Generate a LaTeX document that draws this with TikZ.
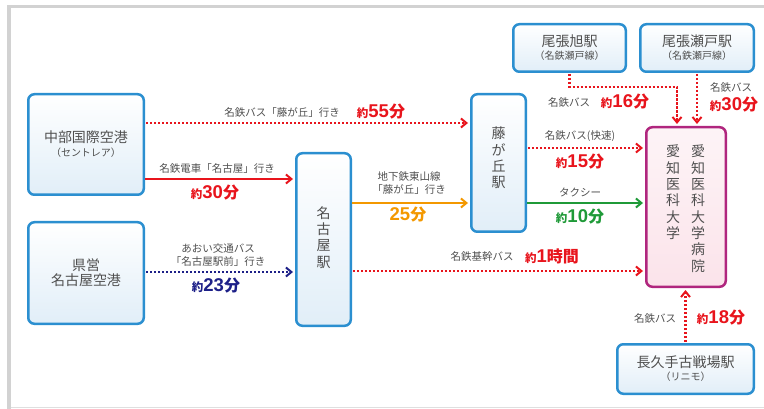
\documentclass[tikz,border=0pt]{standalone}
\usepackage{fontspec}
\setmainfont{Noto Sans CJK JP}
\newfontfamily\numf{Liberation Sans}
\usetikzlibrary{arrows.meta}
\definecolor{txt}{HTML}{4F4F4F}
\definecolor{rd}{HTML}{E8141C}
\definecolor{bl}{HTML}{1D2088}
\definecolor{org}{HTML}{F39800}
\definecolor{grn}{HTML}{1F9A38}
\definecolor{bbord}{HTML}{2B8FD0}
\definecolor{bfill}{HTML}{E1EEF8}
\definecolor{mbord}{HTML}{B0267E}
\definecolor{mfill}{HTML}{FBE3EA}
\definecolor{framec}{HTML}{D2D2D2}
\newcommand\yk[2]{{\bfseries\fontsize{11.5}{11.5}\selectfont 約}{\numf\bfseries\fontsize{18.5}{18.5}\selectfont #1}{\bfseries\fontsize{16}{16}\selectfont #2}}
\newcommand\bigt[1]{{\fontsize{14}{16.3}\selectfont #1}}
\newcommand\subt[1]{{\fontsize{10}{12}\selectfont #1}}
\tikzset{
  box/.style={draw=bbord, line width=2.5pt, rounded corners=6pt, top color=white, bottom color=bfill, text=txt, inner sep=0pt, align=center},
  mbox/.style={draw=mbord, line width=2.5pt, rounded corners=6pt, top color=white!60!mfill, bottom color=mfill, inner sep=0pt},
  vtext/.style={text=txt, align=center, inner sep=0pt, font=\fontsize{14}{16.3}\selectfont},
  lbl/.style={text=txt, inner sep=0pt, font=\fontsize{10.5}{13}\selectfont, align=center},
  tm/.style={inner sep=0pt},
  dotline/.style={line width=2.8pt, dash pattern=on 2.2pt off 1.8pt, -{Straight Barb[length=5.5pt,width=9pt,line width=2pt]}, shorten >=2pt, shorten <=1pt},
  solline/.style={line width=2pt, -{Straight Barb[length=5.5pt,width=9pt,line width=2pt]}, shorten >=2pt}
}
\begin{document}
\begin{tikzpicture}[x=1pt,y=-1pt]
\useasboundingbox (0,0) rectangle (764,409);
% frame
\fill[framec] (7,5) rectangle (764,8);
\fill[framec] (7,5) rectangle (11,409);
\draw[framec!70, line width=1pt] (11,407.5) -- (764,407.5);
% boxes
\node[box, minimum width=115.5pt, minimum height=100.5pt] (chubu) at (86,144.5) {\bigt{中部国際空港}\\[2pt]\subt{（セントレア）}};
\node[box, minimum width=115.5pt, minimum height=101.5pt] (kenei) at (86,273) {\bigt{県営}\\[1pt]\bigt{名古屋空港}};
\node[box, minimum width=54.5pt, minimum height=172.5pt] (nagoya) at (323.5,239.5) {};
\node[vtext] (nagoyat) at (323.5,237.5) {名\\古\\屋\\駅};
\node[box, minimum width=54.5pt, minimum height=137.5pt] (fuji) at (498.5,163) {};
\node[vtext] (fujit) at (498.5,158) {藤\\が\\丘\\駅};
\node[mbox, minimum width=79.5pt, minimum height=159.5pt] (aichi) at (686,207) {};
\node[vtext, anchor=north] (aichit1) at (673,145) {愛\\知\\医\\科\\大\\学};
\node[vtext, anchor=north] (aichit2) at (698,145) {愛\\知\\医\\科\\大\\学\\病\\院};
\node[box, minimum width=112.5pt, minimum height=47.5pt] (owari) at (569.5,48) {\bigt{尾張旭駅}\\[1pt]\subt{（名鉄瀬戸線）}};
\node[box, minimum width=113.5pt, minimum height=47.5pt] (seto) at (697,48) {\bigt{尾張瀬戸駅}\\[1pt]\subt{（名鉄瀬戸線）}};
\node[box, minimum width=136.5pt, minimum height=49.5pt] (naga) at (685.5,369) {\bigt{長久手古戦場駅}\\[1pt]\subt{（リニモ）}};
% connectors
\draw[dotline, rd] (chubu.east |- 0,123) -- (fuji.west |- 0,123);
\draw[solline, rd] (chubu.east |- 0,179) -- (nagoya.west |- 0,179);
\draw[dotline, bl] (kenei.east |- 0,272) -- (nagoya.west |- 0,272);
\draw[solline, org] (nagoya.east |- 0,203) -- (fuji.west |- 0,203);
\draw[dotline, rd] (nagoya.east |- 0,271) -- (aichi.west |- 0,271);
\draw[dotline, rd] (fuji.east |- 0,148) -- (aichi.west |- 0,148);
\draw[solline, grn] (fuji.east |- 0,203) -- (aichi.west |- 0,203);
\draw[dotline, rd] (owari.south) -- (owari.south |- 0,87) -| ([xshift=-9pt]aichi.north);
\draw[dotline, rd] (seto.south) -- (seto.south |- aichi.north);
\draw[dotline, rd] (naga.north) -- (naga.north |- aichi.south);
% labels
\node[lbl] (l1) at (282,113) {名鉄バス「藤が丘」行き};
\node[tm, text=rd] (t1) at (381,112) {\yk{55}{分}};
\node[lbl] (l2) at (217,169) {名鉄電車「名古屋」行き};
\node[tm, text=rd] (t2) at (215,193) {\yk{30}{分}};
\node[lbl] (l3) at (218,255) {あおい交通バス\\「名古屋駅前」行き};
\node[tm, text=bl] (t3) at (216,286) {\yk{23}{分}};
\node[lbl] (l4) at (409,183.5) {地下鉄東山線\\「藤が丘」行き};
\node[tm, text=org] (t4) at (408,215) {{\numf\bfseries\fontsize{18.5}{18.5}\selectfont 25}{\bfseries\fontsize{16}{16}\selectfont 分}};
\node[lbl] (l5) at (482,257) {名鉄基幹バス};
\node[tm, text=rd] (t5) at (552,256) {\yk{1}{時間}};
\node[lbl] (l6) at (580,136) {名鉄バス(快速)};
\node[tm, text=rd] (t6) at (580,162) {\yk{15}{分}};
\node[lbl] (l7) at (580,192) {タクシー};
\node[tm, text=grn] (t7) at (580,217) {\yk{10}{分}};
\node[lbl] (l8) at (569,103) {名鉄バス};
\node[tm, text=rd] (t8) at (625,102) {\yk{16}{分}};
\node[lbl] (l9) at (731,88) {名鉄バス};
\node[tm, text=rd] (t9) at (734,105) {\yk{30}{分}};
\node[lbl] (l10) at (655,319) {名鉄バス};
\node[tm, text=rd] (t10) at (721,318) {\yk{18}{分}};
\end{tikzpicture}
\end{document}
